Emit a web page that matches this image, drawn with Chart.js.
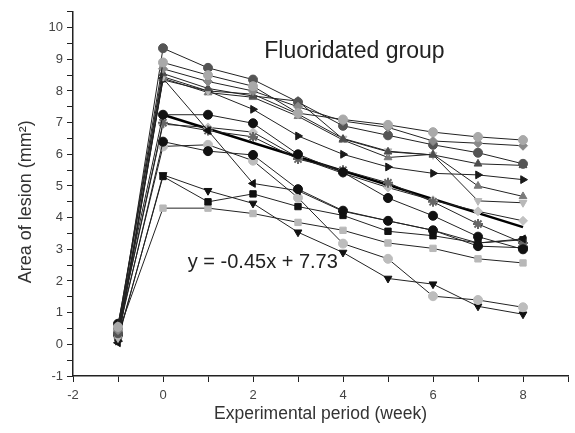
<!DOCTYPE html>
<html>
<head>
<meta charset="utf-8">
<script src="https://cdn.jsdelivr.net/npm/chart.js@4.4.1/dist/chart.umd.min.js"></script>
<style>
  html, body { margin: 0; padding: 0; background: #fff; }
</style>
</head>
<body>
<canvas id="chart" width="575" height="433"></canvas>
<script>
// weeks of the experimental period (x axis)
var weeks = [-1, 0, 1, 2, 3, 4, 5, 6, 7, 8];

// lesion area (mm2) per specimen
var lightCircleTop  = [0.55, 8.9, 8.5, 8.15, 7.3, 7.1, 6.93, 6.7, 6.55, 6.45];
var grayDiamond     = [0.45, 8.7, 8.3, 8.0, 7.5, 7.05, 6.85, 6.42, 6.35, 6.27];
var darkCircle      = [0.35, 9.35, 8.73, 8.36, 7.65, 6.9, 6.6, 6.3, 6.05, 5.7];
var darkUpTri       = [0.6, 8.55, 8.08, 7.84, 7.68, 6.48, 6.08, 5.98, 5.7, 5.65];
var lightDownTri    = [0.2, 8.45, 8.0, 7.9, 7.27, 6.5, 6.1, 5.98, 4.53, 4.47];
var grayUpTri       = [0.25, 8.4, 7.95, 7.8, 7.2, 6.45, 5.9, 6.0, 5.0, 4.67];
var blackRightTri   = [0.1, 8.35, 8.0, 7.42, 6.58, 6.0, 5.6, 5.4, 5.35, 5.2];
var blackLeftTri    = [0.05, 8.4, 6.75, 5.08, 4.85, 4.2, 3.9, 3.6, 3.2, 3.33];
var blackCircleA    = [0.65, 7.25, 7.25, 6.98, 6.0, 5.43, 4.62, 4.06, 3.4, 3.0];
var grayStar        = [0.5, 7.0, 6.75, 6.55, 5.85, 5.5, 5.1, 4.5, 3.8, 3.2];
var blackCircleB    = [0.3, 6.4, 6.1, 5.98, 4.9, 4.22, 3.9, 3.6, 3.1, 3.05];
var lightCircleLow  = [0.4, 6.25, 6.3, 5.8, 4.63, 3.18, 2.7, 1.52, 1.4, 1.17];
var blackDownTri    = [0.15, 5.35, 4.85, 4.45, 3.54, 2.9, 2.08, 1.9, 1.2, 0.95];
var blackSquare     = [0.2, 5.3, 4.5, 4.75, 4.35, 4.07, 3.57, 3.43, 3.2, 3.3];
var lightSquare     = [0.35, 4.3, 4.3, 4.13, 3.85, 3.6, 3.2, 3.03, 2.7, 2.57];
var lightDiamond    = [0.45, 6.95, 6.85, 6.7, 5.9, 5.4, 4.95, 4.55, 4.2, 3.9];

// linear fit line as drawn in the figure
var fitX = [0, 8];
var fitY = [7.25, 3.7];

var FONT = "'Liberation Sans', Arial, sans-serif";

// marker look for each series
var series = [
    { data: lightCircleTop, color: '#a9a9a9', style: 'circle', rot: 0 },
    { data: grayDiamond,    color: '#8a8a8a', style: 'rectRot', rot: 0 },
    { data: darkCircle,     color: '#555555', style: 'circle', rot: 0 },
    { data: darkUpTri,      color: '#4d4d4d', style: 'triangle', rot: 0 },
    { data: lightDownTri,   color: '#b8b8b8', style: 'triangle', rot: 180 },
    { data: grayUpTri,      color: '#7a7a7a', style: 'triangle', rot: 0 },
    { data: blackRightTri,  color: '#1a1a1a', style: 'triangle', rot: 90 },
    { data: blackLeftTri,   color: '#111111', style: 'triangle', rot: 270 },
    { data: blackCircleA,   color: '#111111', style: 'circle', rot: 0 },
    { data: grayStar,       color: '#666666', style: 'star', rot: 0 },
    { data: blackCircleB,   color: '#111111', style: 'circle', rot: 0 },
    { data: lightCircleLow, color: '#bdbdbd', style: 'circle', rot: 0 },
    { data: blackDownTri,   color: '#111111', style: 'triangle', rot: 180 },
    { data: blackSquare,    color: '#111111', style: 'rect', rot: 0 },
    { data: lightSquare,    color: '#b8b8b8', style: 'rect', rot: 0 },
    { data: lightDiamond,   color: '#c2c2c2', style: 'rectRot', rot: 0 }
];

var datasets = series.map(function(s, i) {
    return {
        label: 'S' + (i + 1),
        data: weeks.map(function(w, j) { return { x: w, y: s.data[j] }; }),
        showLine: true,
        borderColor: '#222',
        borderWidth: 1,
        pointStyle: s.style,
        pointRotation: s.rot,
        pointRadius: s.style === 'star' ? 5 : 4.5,
        pointBackgroundColor: s.color,
        pointBorderColor: s.color,
        pointBorderWidth: s.style === 'star' ? 2 : 1
    };
});

datasets.push({
    label: 'fit',
    data: fitX.map(function(x, j) { return { x: x, y: fitY[j] }; }),
    showLine: true,
    borderColor: '#000',
    borderWidth: 2.5,
    pointRadius: 0
});

// in-plot texts: group name, fitted equation, and the y axis title
var textPlugin = {
    id: 'plotTexts',
    afterDatasetsDraw: function(chart) {
        var ctx = chart.ctx;
        var xs = chart.scales.x, ys = chart.scales.y;
        ctx.save();
        ctx.fillStyle = '#222';
        ctx.textBaseline = 'alphabetic';
        ctx.textAlign = 'left';
        ctx.font = '23px ' + FONT;
        ctx.fillText('Fluoridated group', xs.getPixelForValue(2.25), ys.getPixelForValue(9.03));
        ctx.font = '20px ' + FONT;
        ctx.fillText('y = -0.45x + 7.73', xs.getPixelForValue(0.55), ys.getPixelForValue(2.4));

        // y axis title, centred a little below the middle as in the figure
        ctx.fillStyle = '#333';
        ctx.font = '18px ' + FONT;
        ctx.textAlign = 'center';
        ctx.textBaseline = 'middle';
        ctx.translate(26, ys.getPixelForValue(4.5));
        ctx.rotate(-Math.PI / 2);
        ctx.fillText('Area of lesion (mm²)', 0, 0);
        ctx.restore();
    }
};

new Chart(document.getElementById('chart').getContext('2d'), {
    type: 'scatter',
    data: { datasets: datasets },
    options: {
        responsive: false,
        animation: false,
        devicePixelRatio: 1,
        layout: { padding: { top: 10, right: 4, bottom: 0, left: 0 } },
        plugins: {
            legend: { display: false },
            tooltip: { enabled: false }
        },
        scales: {
            x: {
                type: 'linear',
                min: -2,
                max: 9,
                afterFit: function(scale) { scale.height = 57; },
                grid: { drawOnChartArea: false, drawTicks: true, tickLength: 6, color: '#222' },
                border: { display: true, color: '#222', width: 1.5 },
                ticks: {
                    stepSize: 1,
                    autoSkip: false,
                    maxRotation: 0,
                    padding: 6,
                    color: '#444',
                    font: { family: FONT, size: 13 },
                    callback: function(v) { return v % 2 === 0 ? v : ''; }
                },
                title: {
                    display: true,
                    text: 'Experimental period (week)',
                    color: '#333',
                    font: { family: FONT, size: 17.5 },
                    padding: { top: 0, bottom: 8 }
                }
            },
            y: {
                min: -1,
                max: 10.5,
                afterFit: function(scale) { scale.width = 73; },
                grid: { drawOnChartArea: false, drawTicks: true, tickLength: 6, color: '#222' },
                border: { display: true, color: '#222', width: 1.5 },
                ticks: {
                    stepSize: 0.5,
                    autoSkip: false,
                    padding: 4,
                    color: '#444',
                    font: { family: FONT, size: 13 },
                    callback: function(v) { return v % 1 === 0 ? v : ''; }
                },
                title: { display: false }
            }
        }
    },
    plugins: [textPlugin]
});
</script>
</body>
</html>
